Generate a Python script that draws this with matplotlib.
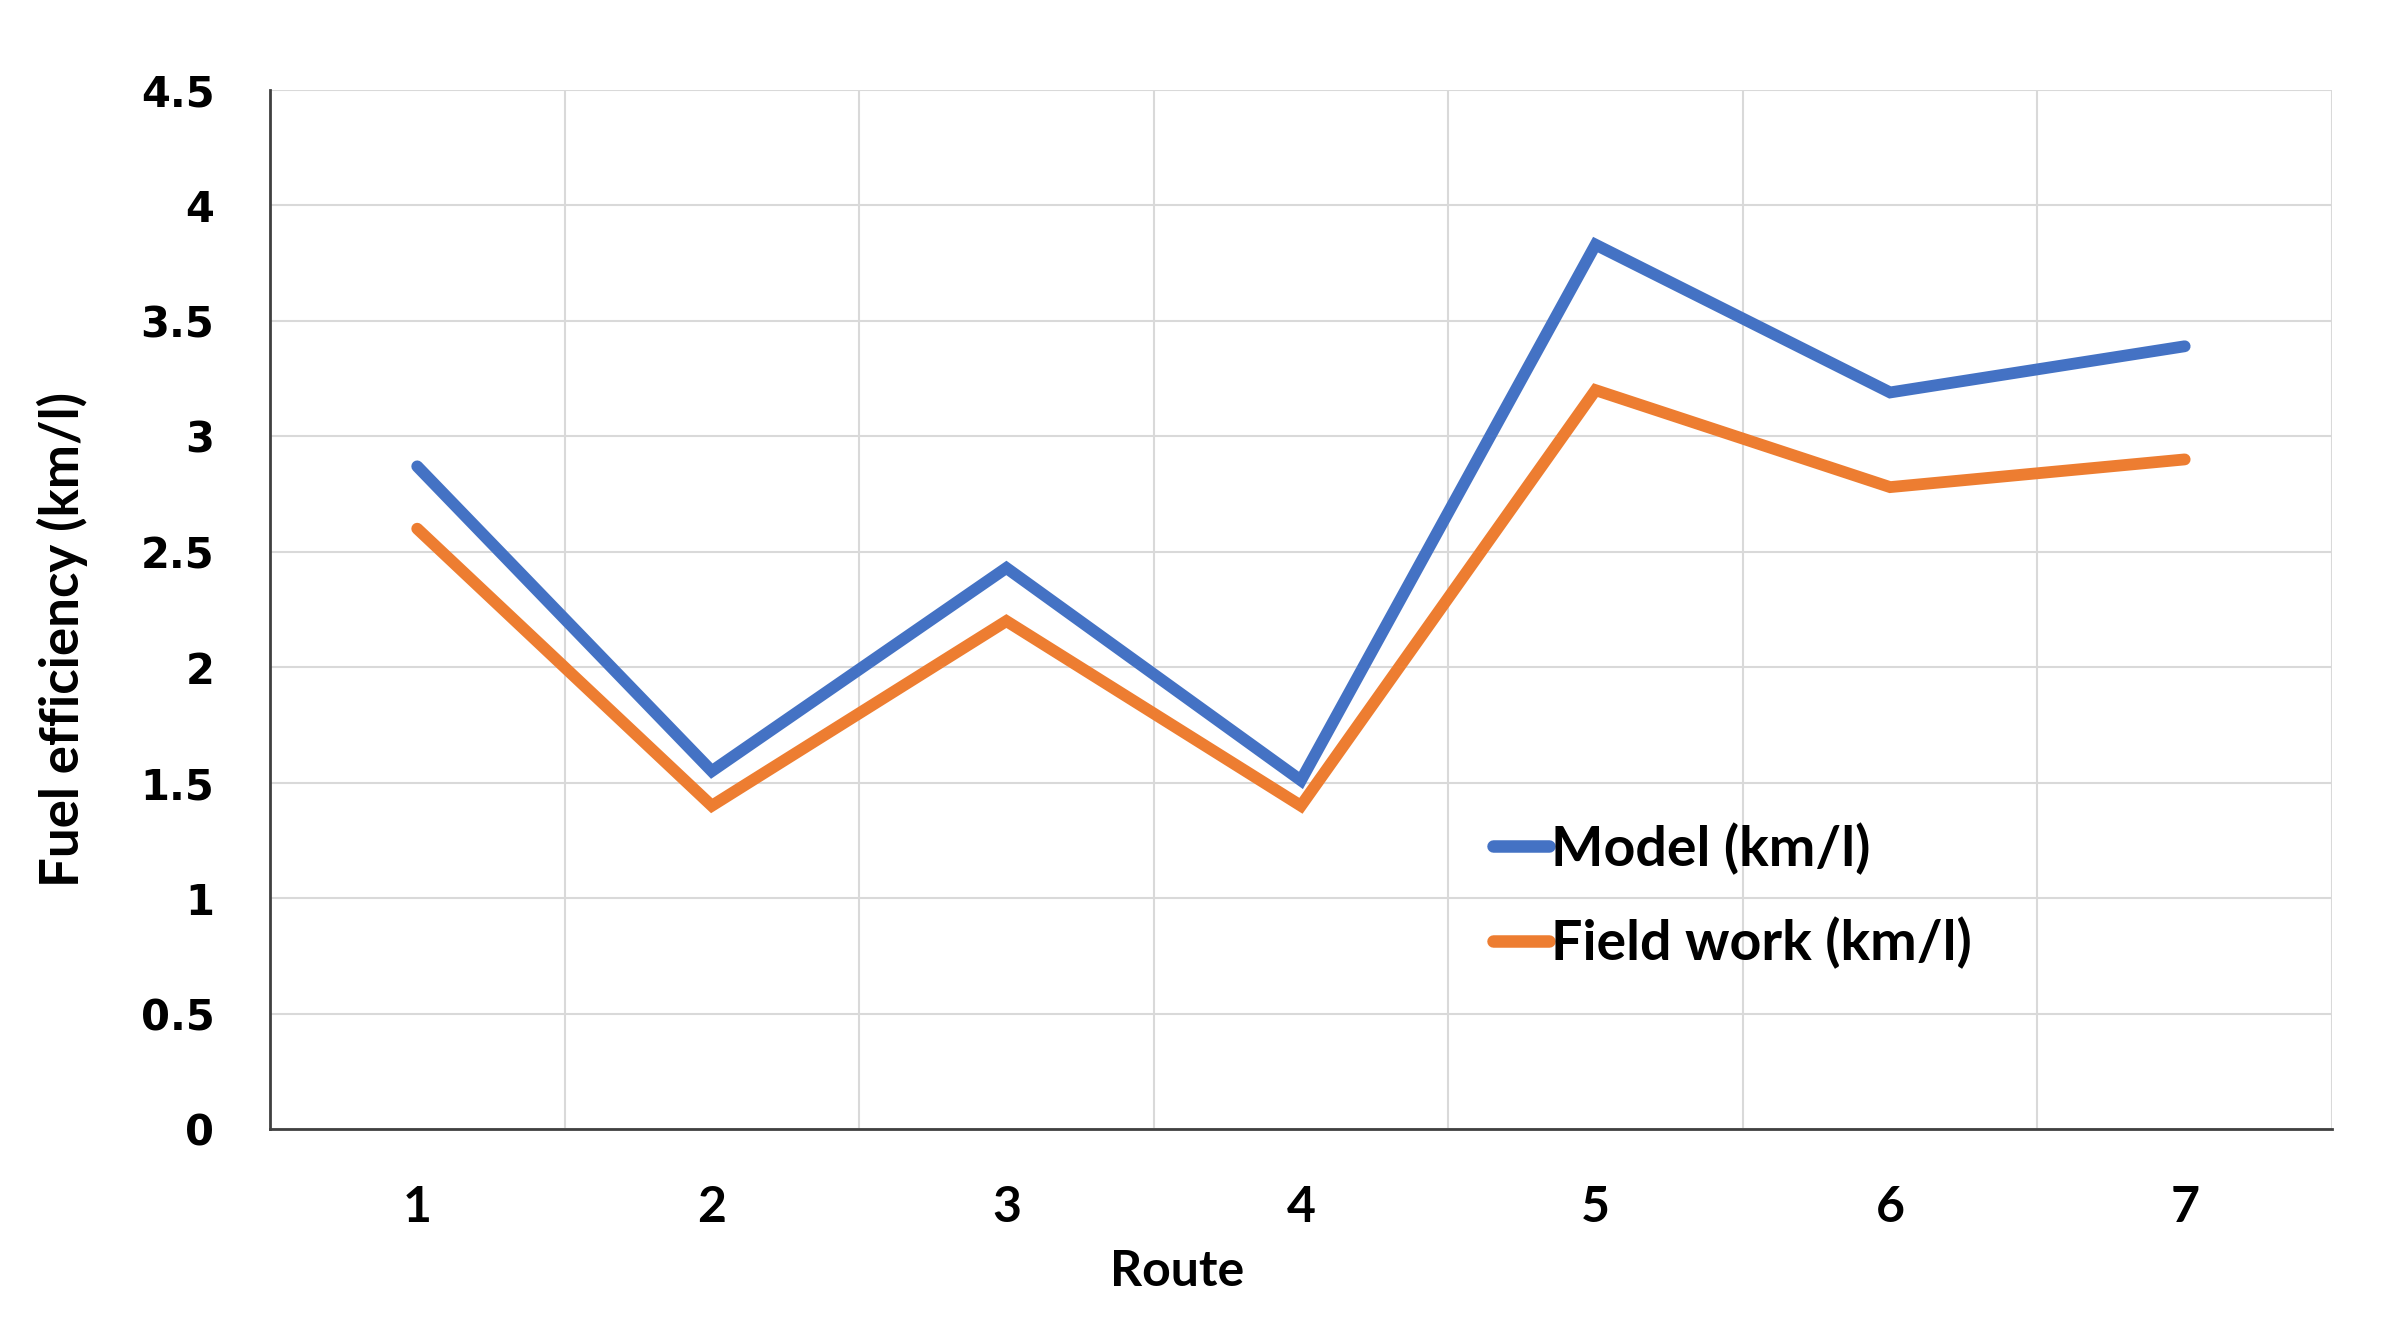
import matplotlib.pyplot as plt
from matplotlib.ticker import MultipleLocator

# --- data ---
routes = [1, 2, 3, 4, 5, 6, 7]
model_kml = [2.87, 1.55, 2.43, 1.51, 3.83, 3.19, 3.39]
field_kml = [2.60, 1.40, 2.20, 1.40, 3.20, 2.78, 2.90]
y_ticks = [0, 0.5, 1, 1.5, 2, 2.5, 3, 3.5, 4, 4.5]
y_tick_labels = ["0", "0.5", "1", "1.5", "2", "2.5", "3", "3.5", "4", "4.5"]

plt.rcParams['font.family'] = ['Lato', 'DejaVu Sans']

fig = plt.figure(figsize=(23.93, 13.21), dpi=100)
ax = fig.add_axes([0.1128, 0.1453, 0.8617, 0.7866])

# series lines (Excel-style colours)
ax.plot(routes, model_kml, color="#4472C4", lw=8.5, solid_capstyle="round",
        solid_joinstyle="miter", label="Model (km/l)", zorder=3)
ax.plot(routes, field_kml, color="#ED7D31", lw=8.5, solid_capstyle="round",
        solid_joinstyle="miter", label="Field work (km/l)", zorder=3)

# axes limits / ticks
ax.set_xlim(0.5, 7.5)
ax.set_ylim(0, 4.5)
ax.set_xticks(routes)
ax.set_xticklabels([str(r) for r in routes])
ax.set_yticks(y_ticks)
ax.set_yticklabels(y_tick_labels)
ax.xaxis.set_minor_locator(MultipleLocator(1, offset=0.5))

# grid: horizontal at major y, vertical at category borders
ax.grid(axis="y", which="major", color="#D9D9D9", lw=1.5, zorder=0)
ax.grid(axis="x", which="minor", color="#D9D9D9", lw=1.5, zorder=0)
ax.set_axisbelow(True)

ax.tick_params(axis="both", which="both", length=0)
ax.tick_params(axis="x", pad=40, labelsize=36)
ax.tick_params(axis="y", pad=40, labelsize=30)
for lbl in ax.get_xticklabels():
    lbl.set_fontweight("bold")
for lbl in ax.get_yticklabels():
    lbl.set_fontweight("bold")
    lbl.set_family("DejaVu Sans")

for side in ["top", "right"]:
    ax.spines[side].set_visible(False)
for side in ["left", "bottom"]:
    ax.spines[side].set_color("#404040")
    ax.spines[side].set_linewidth(2)

ax.set_xlabel("Route", fontsize=36, fontweight="bold")
ax.xaxis.set_label_coords(0.44, -0.115)
ax.set_ylabel("Fuel efficiency (km/l)", fontsize=38, fontweight="bold")
ax.yaxis.set_label_coords(-0.088, 0.471)

# legend inside plot, no frame
leg = ax.legend(loc="center left", bbox_to_anchor=(0.603, 0.322),
                bbox_transform=fig.transFigure, frameon=False,
                handlelength=1.0, handletextpad=0.05, labelspacing=0.75,
                prop={"size": 40, "weight": "bold"})
for h in leg.get_lines():
    h.set_linewidth(9)

fig.savefig("out.png", dpi=100, facecolor="white")
